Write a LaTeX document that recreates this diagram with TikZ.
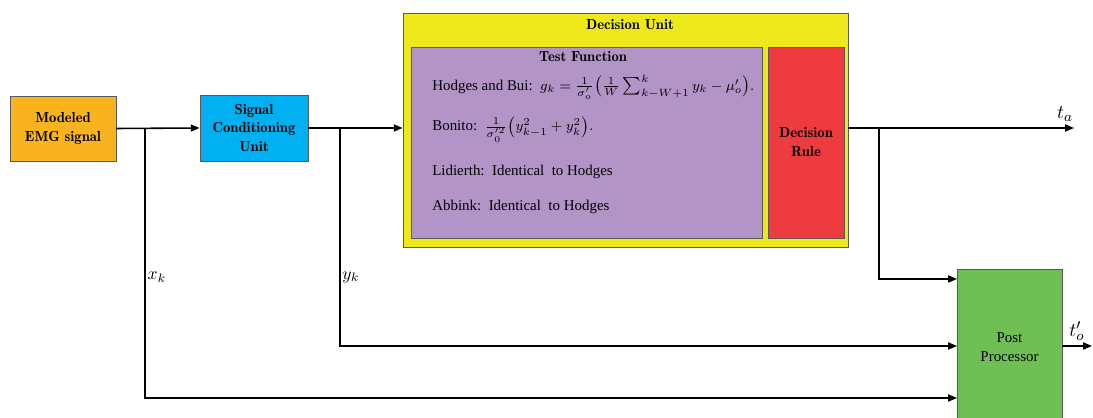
\documentclass[tikz,border=0pt]{standalone}
\usepackage{fontspec}
\setmainfont{Liberation Serif}
\usetikzlibrary{arrows.meta}
\definecolor{emgorange}{RGB}{249,179,31}
\definecolor{sigcyan}{RGB}{0,176,240}
\definecolor{unityellow}{RGB}{237,232,26}
\definecolor{testpurple}{RGB}{179,148,198}
\definecolor{rulered}{RGB}{238,59,63}
\definecolor{postgreen}{RGB}{112,191,85}
\begin{document}
\begin{tikzpicture}[x=0.02cm,y=-0.02cm,
  font=\fontsize{8.5}{10.8}\selectfont,
  blk/.style={draw=black!65,line width=0.5pt,inner sep=0pt,align=center},
  bold/.style={font=\fontsize{8.3}{10.8}\fontfamily{lmr}\bfseries\selectfont},
  sig/.style={line width=0.9pt,-{Triangle[length=5pt,width=4pt]}},
  wire/.style={line width=0.9pt}]
\useasboundingbox (0,0) rectangle (1093,418);
\node[blk,bold,fill=emgorange,minimum width=2.12cm,minimum height=1.3cm] (EMG) at (63,128.5) {Modeled\\EMG signal};
\node[blk,bold,fill=sigcyan,minimum width=2.16cm,minimum height=1.32cm] (SCU) at (254,128) {Signal\\Conditioning\\Unit};
\node[blk,fill=unityellow,minimum width=8.9cm,minimum height=4.68cm] (DU) at (625.5,130) {};
\node[bold] (DUtitle) at (630,25) {Decision Unit};
\node[blk,fill=testpurple,minimum width=7.02cm,minimum height=3.82cm] (TF) at (586.5,142.5) {};
\node[blk,bold,fill=rulered,minimum width=1.52cm,minimum height=3.82cm] (DR) at (806,142.5) {Decision\\Rule};
\node[blk,fill=postgreen,minimum width=2.1cm,minimum height=3.12cm] (PP) at (1009.5,347) {Post\\Processor};
% test function text
\node[bold,inner sep=0pt] (TFtitle) at (583,57) {Test Function};
\node[anchor=west,inner sep=0pt] (hodges) at (432,87) {Hodges and Bui:\ \ $g_k=\frac{1}{\sigma'_o}\bigl(\frac{1}{W}\textstyle\sum_{k-W+1}^{k} y_k-\mu'_o\bigr).$};
\node[anchor=west,inner sep=0pt] (bonito) at (432,129) {Bonito:\ \ $\frac{1}{\sigma'^2_0}\bigl(y_{k-1}^2+y_k^2\bigr).$};
\node[anchor=west,inner sep=0pt] (lidierth) at (432,172) {Lidierth:\ \ Identical\ \ to Hodges};
\node[anchor=west,inner sep=0pt] (abbink) at (432,207) {Abbink:\ \ Identical\ \ to Hodges};
% branch points and free ends
\coordinate (xk) at (145,128);
\coordinate (yk) at (340,128);
\coordinate (tk) at (879,128);
\coordinate (ta) at (1074,128);
\coordinate (pin1) at (957,279);
\coordinate (pin2) at (957,346);
\coordinate (pin3) at (957,398);
\coordinate (to) at (1092,346);
% connectors
\draw[sig] (EMG.east) -- (SCU.west);
\draw[sig] (SCU.east) -- (SCU.east-|DU.west);
\draw[sig] (DU.east|-ta) -- (ta);
\draw[sig] (xk) |- (pin3);
\draw[sig] (yk) |- (pin2);
\draw[sig] (tk) |- (pin1);
\draw[sig] (PP.east|-to) -- (to);
% signal labels
\node[font=\fontsize{10}{12}\selectfont] (xklab) at (157,277) {$x_k$};
\node[font=\fontsize{10}{12}\selectfont] (yklab) at (351,277) {$y_k$};
\node[font=\fontsize{11}{12}\selectfont] (talab) at (1065,114) {$t_a$};
\node[font=\fontsize{11}{12}\selectfont] (tolab) at (1077,331) {$t'_o$};
\end{tikzpicture}
\end{document}
